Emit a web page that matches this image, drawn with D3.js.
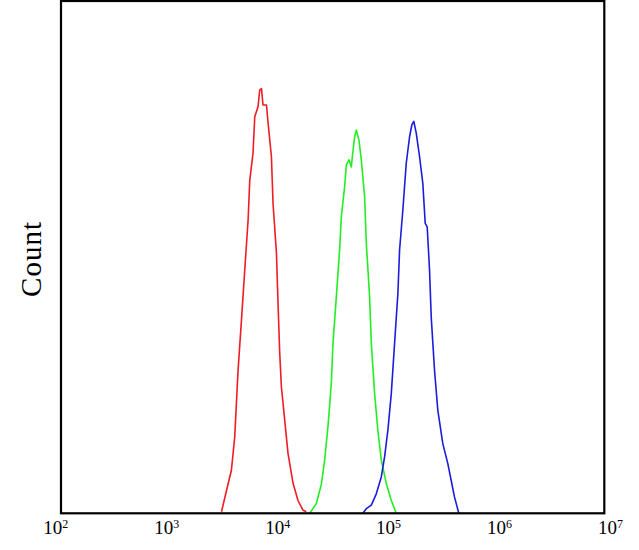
<!DOCTYPE html>
<html><head><meta charset="utf-8">
<script src="https://cdn.jsdelivr.net/npm/d3@7"></script>
<style>body{margin:0;background:#fff}svg{display:block}</style>
</head><body>
<svg id="c" width="639" height="550"></svg>
<script>
// Fluorescence intensity (x) and count (y, relative units) for each histogram
const redX = [3000,3340,3700,3970,4260,4580,4910,5270,5460,5850,6070,6510,6740,7000,7230,7780,8040,8640,8940,9610,9940,10300,10670,11450,12280,13650,15170,16870,18120];
const redY = [0.3,4.5,8.4,14.9,27.9,37.7,47.5,57.2,65.0,70.3,77.4,79.4,82.6,82.9,79.7,79.7,76.3,69.6,60.5,50.8,41.0,31.3,24.7,18.2,11.7,5.9,2.5,0.6,0.3];

const greenX = [19450,22390,24890,26690,28630,30760,31840,34200,36650,38000,40740,42270,44670,46990,47970,50360,52220,55180,58030,62230,64540,69180,71760,76910,82420,88650,98590,109600,121700];
const greenY = [0,1.9,5.7,10.4,16.9,25.4,33.2,42.3,51.4,57.9,63.7,68.0,69.0,67.6,69.6,73.5,74.8,72.9,69.0,61.8,52.7,42.3,33.2,23.4,16.2,10.4,5.8,2.5,0];

const blueX = [60000,64540,71760,79730,88650,95060,101900,109600,117500,126000,130600,140000,150400,161400,169300,176600,185900,199500,213700,224900,234500,246400,255400,273900,293800,326500,363000,389900,417900,458100];
const blueY = [0,0.9,1.6,3.8,7.1,11.0,16.2,23.4,33.2,42.9,51.4,59.2,68.3,73.5,75.8,76.5,74.2,69.6,64.4,56.6,55.9,47.5,38.3,27.9,20.1,13.6,9.7,6.4,3.2,0];

const tickExponents = [2,3,4,5,6,7];
const yLabel = "Count";

const svg = d3.select("#c");
const L = 61, T = 1, R = 604.3, B = 513.3;

const x = d3.scaleLog().domain([1e2, 1e7]).range([L, R]);
const y = d3.scaleLinear().domain([0, 100]).range([B, T]);
const xLabel = d3.scaleLog().domain([1e2, 1e7]).range([43.3, 598]);

const series = [
  {xs: redX, ys: redY, color: "#ee1c24"},
  {xs: greenX, ys: greenY, color: "#22ee22"},
  {xs: blueX, ys: blueY, color: "#1c1cdc"}
];

svg.append("clipPath").attr("id","clip").append("rect")
  .attr("x", L).attr("y", T).attr("width", R-L).attr("height", B-T);

const line = d3.line().x(d => x(d[0])).y(d => y(d[1]));
svg.append("g").attr("clip-path","url(#clip)")
  .selectAll("path").data(series).join("path")
  .attr("d", s => line(s.xs.map((v,i) => [v, s.ys[i]])))
  .attr("fill","none").attr("stroke", s => s.color)
  .attr("stroke-width", 1.6).attr("stroke-linejoin","round");

svg.append("rect").attr("x", L).attr("y", T).attr("width", R-L).attr("height", B-T)
  .attr("fill","none").attr("stroke","#000").attr("stroke-width",2.2);

const lab = svg.append("g").selectAll("text").data(tickExponents).join("text")
  .attr("x", e => xLabel(Math.pow(10,e))).attr("y", 534)
  .attr("font-family","'Liberation Serif', 'Times New Roman', serif")
  .attr("font-size", 19).attr("fill","#000");
lab.append("tspan").text("10");
lab.append("tspan").attr("font-size", 12).attr("dy", -6).text(e => e);

svg.append("text")
  .attr("transform","translate(41,259) rotate(-90)")
  .attr("text-anchor","middle")
  .attr("font-family","'Liberation Serif', 'Times New Roman', serif")
  .attr("font-size", 29).attr("letter-spacing", 1).attr("fill","#000")
  .text(yLabel);
</script>
</body></html>
